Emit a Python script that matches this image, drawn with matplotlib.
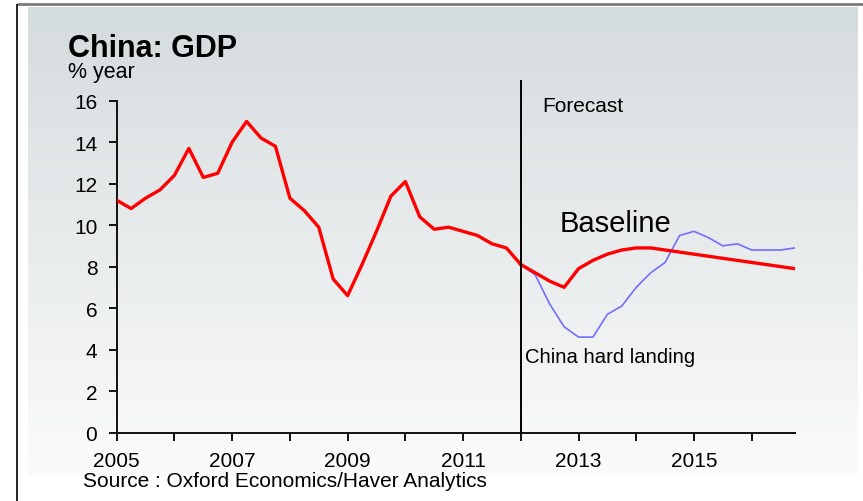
import numpy as np
import matplotlib
matplotlib.use("Agg")
import matplotlib.pyplot as plt
from matplotlib.ticker import FixedLocator, NullFormatter

plt.rcParams['font.family'] = ['Liberation Sans', 'DejaVu Sans']

# Quarterly GDP growth, % year
hist_quarters = np.arange(2005.0, 2012.01, 0.25)
hist_gdp = [11.2, 10.8, 11.3, 11.7, 12.4, 13.7, 12.3, 12.5,
            14.0, 15.0, 14.2, 13.8, 11.3, 10.7, 9.9, 7.4,
            6.6, 8.1, 9.7, 11.4, 12.1, 10.4, 9.8, 9.9,
            9.7, 9.5, 9.1, 8.9, 8.1]

fc_quarters = np.arange(2012.0, 2016.76, 0.25)
baseline = [8.1, 7.7, 7.3, 7.0, 7.9, 8.3, 8.6, 8.8,
            8.9, 8.9, 8.8, 8.7, 8.6, 8.5, 8.4, 8.3,
            8.2, 8.1, 8.0, 7.9]
hard_landing = [8.1, 7.6, 6.2, 5.1, 4.6, 4.6, 5.7, 6.1,
                7.0, 7.7, 8.2, 9.5, 9.7, 9.4, 9.0, 9.1,
                8.8, 8.8, 8.8, 8.9]

forecast_start = 2012.0
year_ticks = list(range(2005, 2017))
year_labels = ["2005", "2007", "2009", "2011", "2013", "2015"]
y_ticks = [0, 2, 4, 6, 8, 10, 12, 14, 16]

W, H = 863, 502
fig = plt.figure(figsize=(W / 100, H / 100), dpi=100)

# Background panel with vertical gradient and frame lines
bg = fig.add_axes([0, 0, 1, 1], zorder=0)
bg.set_xlim(0, W)
bg.set_ylim(H, 0)
bg.axis('off')
top_c = np.array([213, 220, 222]) / 255
bot_c = np.array([251, 251, 251]) / 255
t = np.linspace(0, 1, 256)[:, None]
grad = (top_c[None, :] * (1 - t) + bot_c[None, :] * t)[:, None, :]
bg.imshow(grad, extent=[28, 857, 477, 8], aspect='auto', interpolation='bilinear')
bg.plot([17, W], [5, 5], color='#7a7a7a', lw=2, solid_capstyle='butt')
bg.plot([17, 17], [5, H], color='black', lw=1.2, solid_capstyle='butt')

ax = fig.add_axes([116.7 / W, 68.5 / H, (795 - 116.7) / W, 331.8 / H], zorder=1)
ax.patch.set_alpha(0)
ax.set_xlim(2005, 2016.75)
ax.set_ylim(0, 16)

for s in ['top', 'right']:
    ax.spines[s].set_visible(False)
for s in ['left', 'bottom']:
    ax.spines[s].set_linewidth(1.4)
    ax.spines[s].set_color('#111111')

ax.xaxis.set_major_locator(FixedLocator([int(y) for y in year_labels]))
ax.set_xticklabels(year_labels)
ax.xaxis.set_minor_locator(FixedLocator([y for y in year_ticks if str(y) not in year_labels]))
ax.xaxis.set_minor_formatter(NullFormatter())
ax.set_yticks(y_ticks)
ax.set_yticklabels([str(v) for v in y_ticks])
ax.tick_params(axis='both', which='both', direction='out', length=6, width=1.4,
               color='#111111', labelsize=15)
ax.tick_params(axis='x', pad=7)
ax.tick_params(axis='y', pad=8)

ax.plot(fc_quarters, hard_landing, color='#7070ff', lw=1.2, zorder=3)
ax.plot(hist_quarters, hist_gdp, color='#ff0000', lw=2.4, zorder=4)
ax.plot(fc_quarters, baseline, color='#ff0000', lw=2.4, zorder=4)

ax.axvline(forecast_start, ymin=0, ymax=1.06, color='black', lw=1.4, clip_on=False, zorder=5)

ax.text(2012.38, 15.75, "Forecast", fontsize=15, va='center', ha='left')
ax.text(2012.68, 10.1, "Baseline", fontsize=21, va='center', ha='left')
ax.text(2012.07, 3.65, "China hard landing", fontsize=14.6, va='center', ha='left')

fig.text(68 / W, 1 - 57 / H, "China: GDP", fontsize=22, fontweight='bold',
         va='baseline', ha='left')
fig.text(68 / W, 1 - 78 / H, "% year", fontsize=15.5, va='baseline', ha='left')
fig.text(83 / W, 1 - 482 / H, "Source : Oxford Economics/Haver Analytics", fontsize=15,
         va='center', ha='left')

fig.savefig("out.png", dpi=100)
